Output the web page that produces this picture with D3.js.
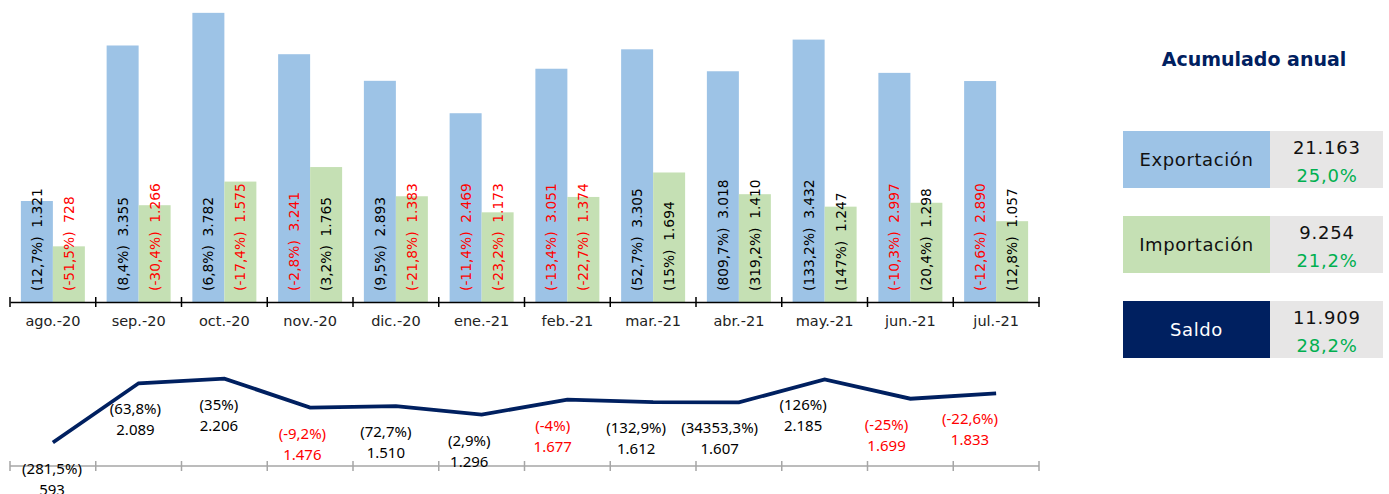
<!DOCTYPE html>
<html>
<head>
<meta charset="utf-8">
<script src="https://cdn.jsdelivr.net/npm/d3@7"></script>
<style>
body {margin:0; background:white;}
svg text {white-space:pre;}
</style>
</head>
<body>
<svg id="chart"></svg>
<script>
//months shown on both axes
var months = ["ago.-20","sep.-20","oct.-20","nov.-20","dic.-20","ene.-21",
              "feb.-21","mar.-21","abr.-21","may.-21","jun.-21","jul.-21"];

//exports, imports and trade balance (millions) with their year-on-year change
var exportValues = [1321,3355,3782,3241,2893,2469,3051,3305,3018,3432,2997,2890];
var exportPct = ["12,7","8,4","6,8","-2,8","9,5","-11,4","-13,4","52,7","809,7","133,2","-10,3","-12,6"];
var importValues = [728,1266,1575,1765,1383,1173,1374,1694,1410,1247,1298,1057];
var importPct = ["-51,5","-30,4","-17,4","3,2","-21,8","-23,2","-22,7","15","319,2","147","20,4","12,8"];
var saldoValues = [593,2089,2206,1476,1510,1296,1677,1612,1607,2185,1699,1833];
var saldoPct = ["281,5","63,8","35","-9,2","72,7","2,9","-4","132,9","34353,3","126","-25","-22,6"];

//yearly accumulated panel
var summaryNames = ["Exportación","Importación","Saldo"];
var summaryValues = [21163,9254,11909];
var summaryPct = ["25,0","21,2","28,2"];

var colors = {exp:"#9DC3E6", imp:"#C5E0B4", navy:"#002060", red:"#FF0000",
              green:"#00B050", grey:"#E7E6E6"};

//spanish number format 1.321
var locale = d3.formatLocale({decimal:",", thousands:".", grouping:[3], currency:["","€"]});
var fmt = locale.format(",d");

var pctColor = function(p)
{
    return p.charAt(0) == "-" ? colors.red : "black";
}

var screen = {width:1389, height:494};

var svg = d3.select("#chart")
    .attr("width",screen.width)
    .attr("height",screen.height);

//SCALES
var x0 = d3.scaleBand()
    .domain(months)
    .range([10,1039]);

var x1 = d3.scaleBand()
    .domain(["exp","imp"])
    .range([0,x0.bandwidth()])
    .paddingInner(0)
    .paddingOuter(0.34);

var yBar = d3.scaleLinear()
    .domain([0,3950])
    .range([302,0]);

var yLine = d3.scaleLinear()
    .domain([0,2500])
    .range([466,367]);

//the labels of the line sit on their own, slightly tighter spacing
var xLineLabel = d3.scalePoint()
    .domain(months)
    .range([52,970]);

var bars = months.map(function(m,i)
{
    return [
        {month:m, key:"exp", value:exportValues[i], pct:exportPct[i]},
        {month:m, key:"imp", value:importValues[i], pct:importPct[i]}
    ];
});

//BARS
var groups = svg.append("g")
    .selectAll("g")
    .data(bars)
    .enter()
    .append("g")
    .attr("transform",function(d){return "translate("+x0(d[0].month)+",0)";});

groups.selectAll("rect")
    .data(function(d){return d;})
    .enter()
    .append("rect")
    .attr("x",function(d){return x1(d.key);})
    .attr("width",x1.bandwidth())
    .attr("y",function(d){return yBar(d.value);})
    .attr("height",function(d){return yBar(0)-yBar(d.value);})
    .attr("fill",function(d){return colors[d.key];});

groups.selectAll("text")
    .data(function(d){return d;})
    .enter()
    .append("text")
    .attr("transform",function(d)
    {
        return "translate("+(x1(d.key)+x1.bandwidth()/2)+","+(yBar(0)-11)+") rotate(-90)";
    })
    .attr("dy","0.36em")
    .attr("font-family","DejaVu Sans")
    .attr("font-size","13.8px")
    .attr("fill",function(d){return pctColor(d.pct);})
    .text(function(d){return "("+d.pct+"%)  "+fmt(d.value);});

//bar axis
var xAxis = d3.axisBottom(x0).tickSize(0).tickPadding(14);
var axisG = svg.append("g")
    .attr("transform","translate(0,"+yBar(0)+")")
    .call(xAxis);
axisG.select(".domain").attr("stroke","black").attr("stroke-width",1.5);
axisG.selectAll("text")
    .attr("font-family","DejaVu Sans")
    .attr("font-size","14.5px")
    .attr("fill","#222");
axisG.selectAll(".edge")
    .data(months.concat(["end"]))
    .enter()
    .append("line")
    .attr("x1",function(d,i){return i < months.length ? x0(d) : x0.range()[1];})
    .attr("x2",function(d,i){return i < months.length ? x0(d) : x0.range()[1];})
    .attr("y1",-5)
    .attr("y2",5)
    .attr("stroke","black")
    .attr("stroke-width",1.5);

//LINE
var lineAxis = svg.append("g")
    .attr("transform","translate(0,"+yLine(0)+")");
lineAxis.append("line")
    .attr("x1",x0.range()[0])
    .attr("x2",x0.range()[1])
    .attr("stroke","#A6A6A6")
    .attr("stroke-width",1.5);
lineAxis.selectAll(".tick")
    .data(months.concat(["end"]))
    .enter()
    .append("line")
    .attr("x1",function(d,i){return i < months.length ? x0(d) : x0.range()[1];})
    .attr("x2",function(d,i){return i < months.length ? x0(d) : x0.range()[1];})
    .attr("y1",-5)
    .attr("y2",5)
    .attr("stroke","#A6A6A6")
    .attr("stroke-width",1.5);

var line = d3.line()
    .x(function(d,i){return x0(months[i])+x0.bandwidth()/2;})
    .y(function(d){return yLine(d);});

svg.append("path")
    .datum(saldoValues)
    .attr("d",line)
    .attr("fill","none")
    .attr("stroke",colors.navy)
    .attr("stroke-width",3.8)
    .attr("stroke-linejoin","miter");

var lineLabels = svg.append("g")
    .selectAll("g")
    .data(saldoValues)
    .enter()
    .append("g")
    .attr("transform",function(d,i)
    {
        return "translate("+xLineLabel(months[i])+","+yLine(d)+")";
    })
    .attr("font-family","Noto Sans")
    .attr("font-size","15px")
    .attr("text-anchor","middle")
    .attr("fill",function(d,i){return pctColor(saldoPct[i]);});

lineLabels.append("text")
    .attr("y",31)
    .text(function(d,i){return "("+saldoPct[i]+"%)";});

lineLabels.append("text")
    .attr("y",52)
    .text(function(d){return fmt(d);});

//ACCUMULATED PANEL
svg.append("text")
    .attr("x",1254)
    .attr("y",66)
    .attr("text-anchor","middle")
    .attr("font-family","DejaVu Sans")
    .attr("font-weight","bold")
    .attr("font-size","19px")
    .attr("fill",colors.navy)
    .text("Acumulado anual");

var boxFill = [colors.exp, colors.imp, colors.navy];

var rows = svg.append("g")
    .selectAll("g")
    .data(summaryNames)
    .enter()
    .append("g")
    .attr("transform",function(d,i){return "translate(1123,"+(131+85*i)+")";});

rows.append("rect")
    .attr("width",147)
    .attr("height",57)
    .attr("fill",function(d,i){return boxFill[i];});

rows.append("rect")
    .attr("x",147)
    .attr("width",113)
    .attr("height",57)
    .attr("fill",colors.grey);

rows.append("text")
    .attr("x",73.5)
    .attr("y",28.5)
    .attr("dy","0.36em")
    .attr("text-anchor","middle")
    .attr("font-family","DejaVu Sans")
    .attr("font-size","18px")
    .attr("letter-spacing","0.6px")
    .attr("fill",function(d,i){return i == 2 ? "white" : "#111";})
    .text(function(d){return d;});

rows.append("text")
    .attr("x",204)
    .attr("y",17)
    .attr("dy","0.36em")
    .attr("text-anchor","middle")
    .attr("font-family","DejaVu Sans")
    .attr("font-size","18px")
    .attr("letter-spacing","0.8px")
    .attr("fill","#111")
    .text(function(d,i){return fmt(summaryValues[i]);});

rows.append("text")
    .attr("x",204)
    .attr("y",45)
    .attr("dy","0.36em")
    .attr("text-anchor","middle")
    .attr("font-family","DejaVu Sans")
    .attr("font-size","18px")
    .attr("letter-spacing","0.8px")
    .attr("fill",colors.green)
    .text(function(d,i){return summaryPct[i]+"%";});
</script>
</body>
</html>
